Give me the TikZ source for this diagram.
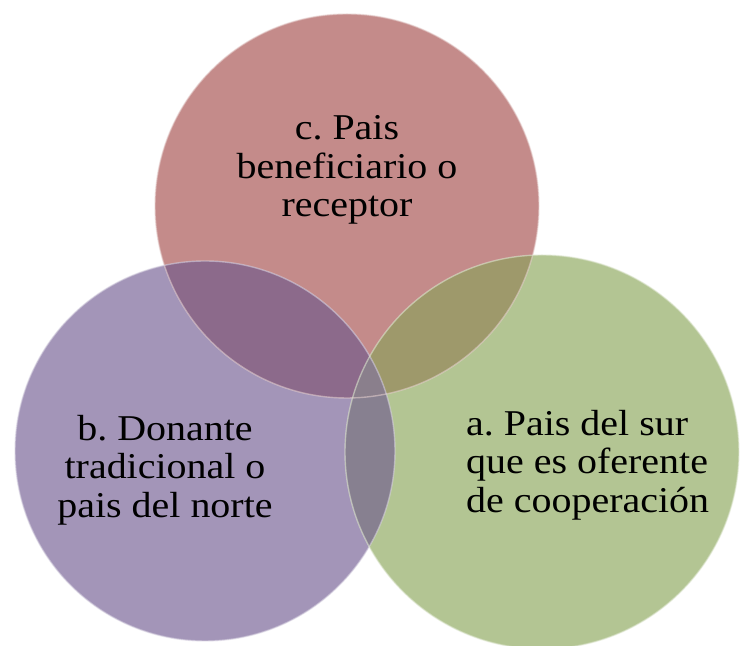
\documentclass[tikz,border=0pt]{standalone}
\usepackage{fontspec}
\setmainfont[FakeStretch=1.1]{Liberation Serif}
\definecolor{rojo}{HTML}{C48B8A}
\definecolor{morado}{HTML}{A395B8}
\definecolor{verde}{HTML}{B3C593}
\definecolor{rojomorado}{HTML}{8C6A8B}
\definecolor{rojoverde}{HTML}{9E996B}
\definecolor{moradoverde}{HTML}{878090}
\definecolor{centro}{HTML}{8A7F8C}
\begin{document}
\frenchspacing
\begin{tikzpicture}[x=0.03cm, y=0.03cm,
    borde/.style={line width=1.2pt, draw opacity=0.55},
    texto/.style={font=\fontsize{31}{33}\selectfont, inner sep=0pt}]
    \useasboundingbox (0,0) rectangle (745,646);
    \coordinate (c) at (347,440);
    \coordinate (b) at (205,195);
    \coordinate (a) at (542,194);
    \fill[rojo] (c) circle (192);
    \fill[morado] (b) circle (190);
    \fill[verde] (a) circle (197);
    \begin{scope}
        \clip (c) circle (192);
        \fill[rojomorado] (b) circle (190);
        \fill[rojoverde] (a) circle (197);
    \end{scope}
    \begin{scope}
        \clip (b) circle (190);
        \fill[moradoverde] (a) circle (197);
        \clip (c) circle (192);
        \fill[centro] (a) circle (197);
    \end{scope}
    \draw[borde, white!60!rojo] (c) circle (192);
    \draw[borde, white!60!morado] (b) circle (190);
    \draw[borde, white!60!verde] (a) circle (197);
    \node[texto, align=center] (tc) at (347,476) {c. Pais\\beneficiario o\\receptor};
    \node[texto, align=center] (tb) at (165,176) {b. Donante\\tradicional o\\pais del norte};
    \node[texto, align=left, anchor=west] (ta) at (466,181) {a. Pais del sur\\que es oferente\\de cooperación};
\end{tikzpicture}
\end{document}
